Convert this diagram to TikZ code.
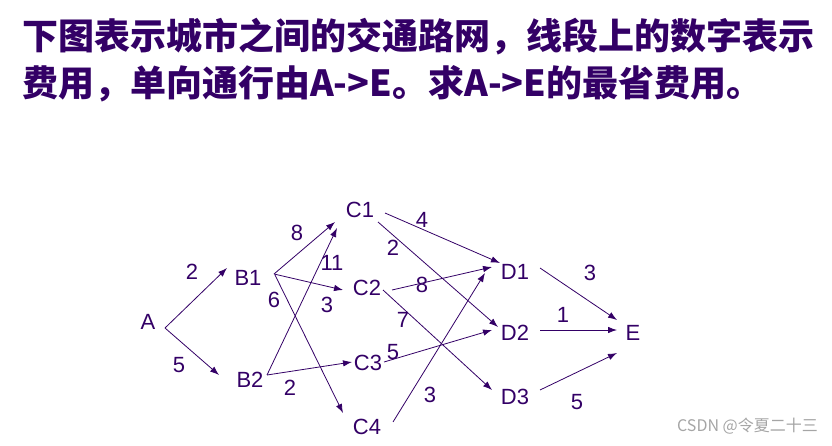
\documentclass[tikz,border=0pt]{standalone}
\usepackage{fontspec}
\setmainfont{Liberation Sans}
\newfontfamily\cjk{Noto Sans CJK SC}
\usetikzlibrary{arrows.meta}
\definecolor{pur}{RGB}{51,0,102}
\definecolor{wm}{RGB}{165,165,165}
\begin{document}
\begin{tikzpicture}[x=1pt,y=-1pt,
  city/.style={text=pur,inner sep=0pt,font=\fontsize{22}{22}\selectfont},
  cost/.style={text=pur,inner sep=0pt,font=\fontsize{22}{22}\selectfont},
  road/.style={draw=pur,line width=0.8pt,-{Latex[length=9pt,width=6.5pt]}},
  title/.style={text=pur,inner sep=0pt,anchor=base west,font=\cjk\bfseries\fontsize{36}{36}\selectfont}]
\useasboundingbox (0,0) rectangle (832,446);
\node[title] (t1) at (22,50) {下图表示城市之间的交通路网，线段上的数字表示};
\node[title] (t2) at (22,97) {费用，单向通行由A->E。求A->E的最省费用。};
% cities
\node[city] (A) at (148,322) {A};
\node[city] (B1) at (248,278) {B1};
\node[city] (B2) at (250,380) {B2};
\node[city] (C1) at (360,210) {C1};
\node[city] (C2) at (367,288) {C2};
\node[city] (C3) at (368,363) {C3};
\node[city] (C4) at (367,427) {C4};
\node[city] (D1) at (515,272) {D1};
\node[city] (D2) at (515,333) {D2};
\node[city] (D3) at (515,397) {D3};
\node[city] (E) at (633,333) {E};
% roads
\draw[road] ([shift={(17,6)}]A.center) -- ([shift={(-21,-10)}]B1.center);
\draw[road] ([shift={(17,6)}]A.center) -- ([shift={(-31,-5)}]B2.center);
\draw[road] ([shift={(26,-4)}]B1.center) -- ([shift={(-25,12)}]C1.center);
\draw[road] ([shift={(26,-4)}]B1.center) -- ([shift={(-24,2)}]C2.center);
\draw[road] ([shift={(27,-3)}]B1.center) -- ([shift={(-24,-14)}]C4.center);
\draw[road] ([shift={(17,-5)}]B2.center) -- ([shift={(-23,18)}]C1.center);
\draw[road] ([shift={(17,-5)}]B2.center) -- ([shift={(-16,-1)}]C3.center);
\draw[road] ([shift={(25,3)}]C1.center) -- ([shift={(-15,-9)}]D1.center);
\draw[road] ([shift={(18,12)}]C1.center) -- ([shift={(-17,-6)}]D2.center);
\draw[road] ([shift={(25,2)}]C2.center) -- ([shift={(-23,-5)}]D1.center);
\draw[road] ([shift={(16,2)}]C2.center) -- ([shift={(-23,-7)}]D3.center);
\draw[road] ([shift={(16,-1)}]C3.center) -- ([shift={(-23,-3)}]D2.center);
\draw[road] ([shift={(26,-5)}]C4.center) -- ([shift={(-30,1)}]D1.center);
\draw[road] ([shift={(25,-4)}]D1.center) -- ([shift={(-16,-13)}]E.center);
\draw[road] ([shift={(25,-3)}]D2.center) -- ([shift={(-16,-3)}]E.center);
\draw[road] ([shift={(25,-7)}]D3.center) -- ([shift={(-16,20)}]E.center);
% costs
\node[cost] (l1) at (192,272) {2};
\node[cost] (l2) at (179,365) {5};
\node[cost] (l3) at (297,233) {8};
\node[cost] (l4) at (332,263) {11};
\node[cost] (l5) at (274,300) {6};
\node[cost] (l6) at (327,305) {3};
\node[cost] (l7) at (290,388) {2};
\node[cost] (l8) at (422,220) {4};
\node[cost] (l9) at (393,248) {2};
\node[cost] (l10) at (422,285) {8};
\node[cost] (l11) at (403,320) {7};
\node[cost] (l12) at (393,352) {5};
\node[cost] (l13) at (430,395) {3};
\node[cost] (l14) at (590,273) {3};
\node[cost] (l15) at (563,315) {1};
\node[cost] (l16) at (577,402) {5};
% watermark
\node[text=wm,inner sep=0pt,anchor=east,font=\cjk\fontsize{16}{16}\selectfont] (wmk) at (818,426) {CSDN @令夏二十三};
\end{tikzpicture}
\end{document}
